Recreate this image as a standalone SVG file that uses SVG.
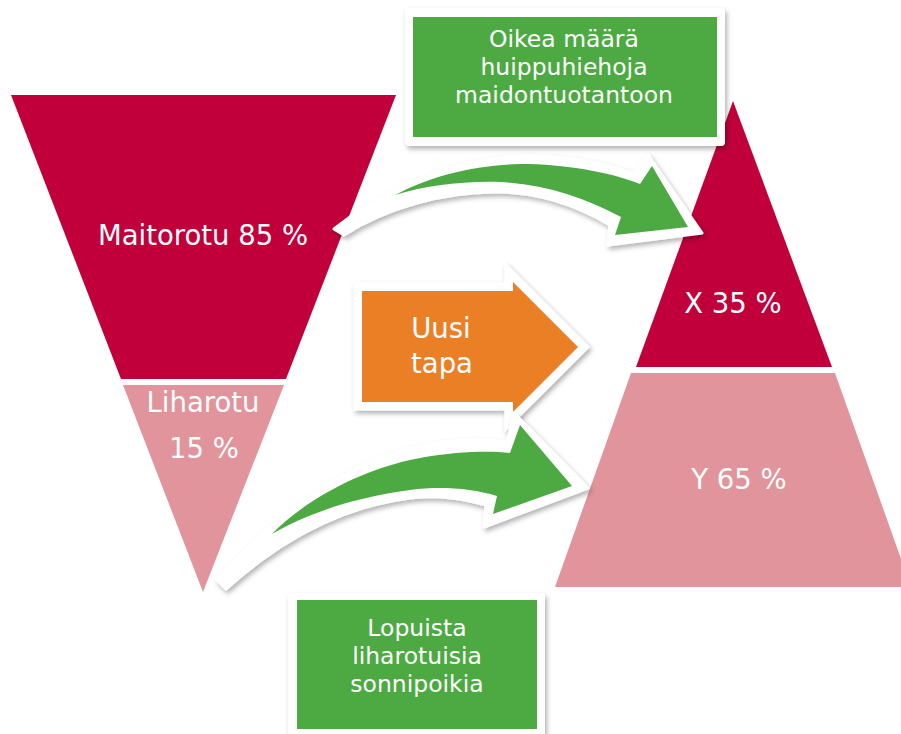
<svg xmlns="http://www.w3.org/2000/svg" width="901" height="734" viewBox="0 0 901 734">
<defs>
<filter id="sh" x="-20%" y="-20%" width="140%" height="140%">
<feDropShadow dx="2" dy="3" stdDeviation="2.5" flood-color="#000" flood-opacity="0.3"/>
</filter>
</defs>
<style>
.dark{fill:#C1003B}
.light{fill:#E1949B}
.green{fill:#4DAA42}
.white{fill:#FFFFFF}
.big{font-family:"DejaVu Sans","Liberation Sans",sans-serif;font-size:27.5px;fill:#FFFFFF;text-anchor:middle}
.box{font-family:"DejaVu Sans","Liberation Sans",sans-serif;font-size:23.5px;fill:#FFFFFF;text-anchor:middle}
</style>
<rect width="901" height="734" fill="#FFFFFF"/>

<g id="funnel-maitorotu">
<polygon class="dark" points="11,95 396,95 286,379 121,379"/>
<text class="big" x="203" y="245">Maitorotu 85 %</text>
</g>
<g id="funnel-liharotu">
<polygon class="light" points="123,385 284,385 203,592"/>
<text class="big" x="203" y="412">Liharotu</text>
<text class="big" x="204" y="458">15 %</text>
</g>

<g id="pyramid-x">
<polygon class="dark" points="733,101 832,367 636,367"/>
<text class="big" x="733" y="313">X 35 %</text>
</g>
<g id="pyramid-y">
<polygon class="light" points="631,373 835,373 911,587 555,587"/>
<text class="big" x="739" y="489">Y 65 %</text>
</g>

<g id="uusi-tapa">
<polygon points="362,291 513,291 513,282 578,347 513,412 513,402 362,402" fill="#EA7F26" stroke="#FFFFFF" stroke-width="17" stroke-linejoin="miter" paint-order="stroke" filter="url(#sh)"/>
<text class="big" x="441" y="338">Uusi</text>
<text class="big" x="442" y="373">tapa</text>
</g>

<g id="connectors">
<path class="white" filter="url(#sh)" stroke="#FFFFFF" stroke-width="3" stroke-linejoin="round" d="M334,229 C370,200 440,160 520,156 C565,155 605,163 633,174 L648,155 L702,233 L608,245 L610,225 C580,207 545,193 500,192 C445,191 385,208 344,235 Z"/>
<path class="green" d="M395,195 C430,176 475,165 520,164 C565,164 610,172 640,184 L652,166 L688,227 L615,235 L621,217 C585,198 545,184 500,182 C460,181 425,186 395,195 Z"/>
<path class="white" filter="url(#sh)" stroke="#FFFFFF" stroke-width="3" stroke-linejoin="round" d="M217,580 C260,530 340,460 430,444 C465,438 492,440 507,442 L514,413 L588,488 L484,527 L486,505 C460,498 440,495 410,498 C340,507 280,540 226,589 Z"/>
<path class="green" d="M272,534 C300,505 355,470 420,458 C460,451 490,451 510,453 L520,425 L572,486 L493,514 L497,496 C470,488 440,486 410,490 C350,498 305,515 272,534 Z"/>
</g>

<g id="box-top">
<rect class="white" x="405" y="8" width="320" height="138" rx="4" filter="url(#sh)"/>
<rect class="green" x="413" y="17" width="304" height="120"/>
<text class="box" x="564" y="47">Oikea määrä</text>
<text class="box" x="564" y="75">huippuhiehoja</text>
<text class="box" x="564" y="103">maidontuotantoon</text>
</g>

<g id="box-bottom">
<rect class="white" x="288" y="593" width="257" height="160" rx="4" filter="url(#sh)"/>
<rect class="green" x="297" y="600" width="240" height="129"/>
<text class="box" x="417" y="636">Lopuista</text>
<text class="box" x="417" y="664">liharotuisia</text>
<text class="box" x="417" y="692">sonnipoikia</text>
</g>
</svg>
